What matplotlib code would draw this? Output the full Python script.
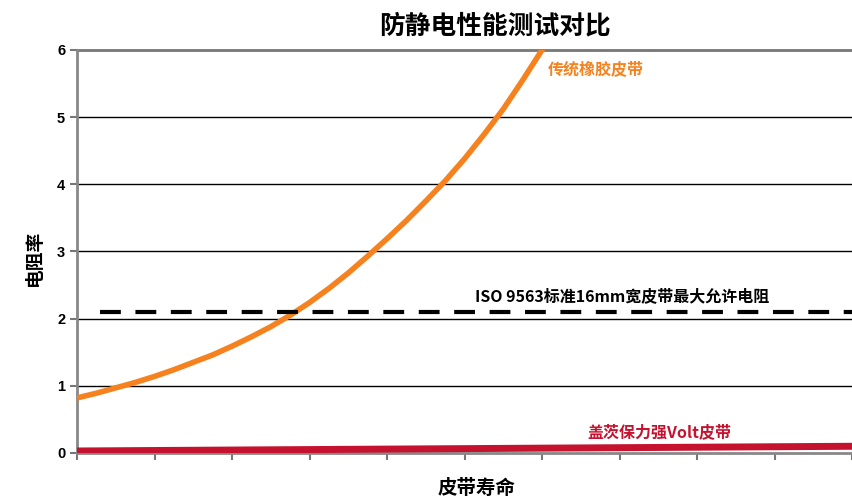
import matplotlib
matplotlib.use("Agg")
import matplotlib.pyplot as plt

plt.rcParams['font.family'] = ['Noto Sans CJK SC', 'DejaVu Sans']

# Data
life_x = [0, 0.25, 0.5, 0.75, 1, 1.25, 1.5, 1.75, 2, 2.25, 2.5, 2.75, 3, 3.25, 3.5,
          3.75, 4, 4.25, 4.5, 4.75, 5, 5.25, 5.5, 5.75, 6, 6.2]
rubber_y = [0.82, 0.89, 0.97, 1.05, 1.14, 1.24, 1.35, 1.46, 1.59, 1.73, 1.88, 2.05, 2.24,
            2.45, 2.68, 2.93, 3.19, 3.46, 3.75, 4.05, 4.38, 4.74, 5.12, 5.55, 6.0, 6.4]
volt_x = [0, 10]
volt_y = [0.03, 0.10]
iso_x = [0.3, 10]
iso_y = [2.1, 2.1]
yticks = [0, 1, 2, 3, 4, 5, 6]
xticks = list(range(0, 11))

fig = plt.figure(figsize=(8.52, 4.99), dpi=100)
ax = fig.add_axes([0.0904, 0.0922, 0.9096, 0.8076])

ax.set_xlim(0, 10)
ax.set_ylim(0, 6)

for y in [1, 2, 3, 4, 5]:
    ax.axhline(y, color='black', lw=1.0, zorder=1)
ax.axhline(6, color='#777777', lw=2.0, zorder=1, clip_on=False)

ax.plot(life_x, rubber_y, color='#F5821F', lw=4, solid_capstyle='butt', zorder=3)
ax.plot(volt_x, volt_y, color='#C4122F', lw=5, solid_capstyle='butt', zorder=3)
ax.plot(iso_x, iso_y, color='black', lw=3, linestyle=(0, (5, 3.5)), zorder=3)

ax.text(6.08, 5.70, '传统橡胶皮带', color='#F5821F', fontsize=11.5, fontweight='bold', va='center')
ax.text(5.14, 2.34, 'ISO 9563标准16mm宽皮带最大允许电阻', color='black', fontsize=11.5,
        fontweight='bold', va='center')
ax.text(6.58, 0.31, '盖茨保力强Volt皮带', color='#C4122F', fontsize=11.5, fontweight='bold', va='center')

ax.set_xticks(xticks)
ax.set_xticklabels([])
ax.set_yticks(yticks)
ax.set_yticklabels([str(v) for v in yticks], fontsize=10.5, fontweight='bold',
                   family=['Liberation Sans', 'DejaVu Sans'])
ax.tick_params(axis='both', color='#777777', width=1.5, length=5)

for s in ['top', 'right']:
    ax.spines[s].set_visible(False)
for s in ['left', 'bottom']:
    ax.spines[s].set_color('#888888')
    ax.spines[s].set_linewidth(2)

fig.text(34 / 852, 1 - 258 / 499, '电阻率', rotation=90, ha='center', va='center',
         fontsize=13.5, fontweight='bold')
fig.text(477 / 852, 1 - 488 / 499, '皮带寿命', ha='center', va='center',
         fontsize=14, fontweight='bold')
fig.text(495 / 852, 1 - 26 / 499, '防静电性能测试对比', ha='center', va='center',
         fontsize=18.5, fontweight='bold')

fig.savefig('out.png', dpi=100)
